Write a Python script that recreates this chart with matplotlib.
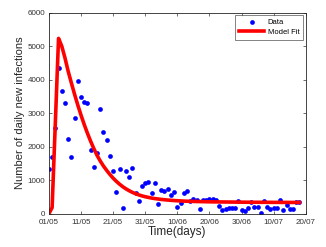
import matplotlib
matplotlib.use("Agg")
import matplotlib.pyplot as plt
import numpy as np

plt.rcParams["font.family"] = ["Liberation Sans", "DejaVu Sans"]

# daily new infections, one value per day from 01/05
days = np.arange(79)
data = [
    1343, 1700, 2550, 4340, 3660, 3290, 2220, 1680, 2850, 3950,
    3490, 3340, 3290, 1900, 1380, 1820, 3120, 2440, 2200, 1720,
    1280, 650, 1320, 170, 1280, 1080, 1360, 610, 370, 830,
    925, 945, 630, 905, 290, 710, 670, 730, 550, 650,
    210, 330, 610, 690, 370, 450, 410, 130, 410, 410,
    430, 430, 410, 230, 110, 150, 170, 170, 170, 390,
    110, 70, 170, 350, 210, 190, 10, 370, 210, 150,
    170, 170, 410, 110, 270, 150, 150, 350, 350,
]
fit = [
    0, 180, 2700, 5230, 5000, 4650, 4250, 3900, 3560, 3240,
    2940, 2660, 2400, 2160, 1940, 1740, 1570, 1420, 1290, 1170,
    1060, 965, 880, 805, 740, 685, 635, 595, 560, 530,
    505, 485, 465, 450, 437, 425, 415, 406, 398, 391,
    385, 380, 375, 371, 368, 365, 362, 360, 358, 356,
    354, 352, 351, 350, 349, 348, 347, 346, 345, 344,
    343, 342, 341, 341, 340, 340, 339, 339, 338, 338,
    337, 337, 336, 336, 336, 335, 335, 335, 335,
]
tick_days = [0, 10, 20, 30, 40, 50, 60, 70, 80]
tick_labels = ["01/05", "11/05", "21/05", "31/05", "10/06", "20/06", "30/06", "10/07", "20/07"]

fig = plt.figure(figsize=(3.26, 2.47), dpi=100)
ax = fig.add_axes([0.150, 0.135, 0.788, 0.814])

ax.plot(days, data, "o", color="#0000ff", markersize=3.4, markeredgewidth=0, label="Data")
ax.plot(days, fit, "-", color="#ff0000", linewidth=2.6, label="Model Fit")

ax.set_xlim(0, 80)
ax.set_ylim(0, 6000)
ax.set_xticks(tick_days)
ax.set_xticklabels(tick_labels)
ax.set_yticks(range(0, 6001, 1000))
ax.tick_params(direction="in", length=2.5, width=0.5, labelsize=5.8,
               colors="#333333", top=True, right=True)
ax.tick_params(axis="x", pad=3.5)
ax.tick_params(axis="y", pad=2.5)
for spine in ax.spines.values():
    spine.set_linewidth(0.6)
    spine.set_color("#262626")

ax.set_xlabel("Time(days)", fontsize=8.5, color="#262626", labelpad=0.5)
ax.set_ylabel("Number of daily new infections", fontsize=8, color="#262626", labelpad=2)

leg = ax.legend(loc="upper right", fontsize=5.5, frameon=True, fancybox=False,
                edgecolor="#262626", handlelength=3.2, borderpad=0.5,
                labelspacing=0.3, handletextpad=0.5, borderaxespad=0.35)
leg.get_frame().set_linewidth(0.5)

fig.savefig("out.png", dpi=100)
